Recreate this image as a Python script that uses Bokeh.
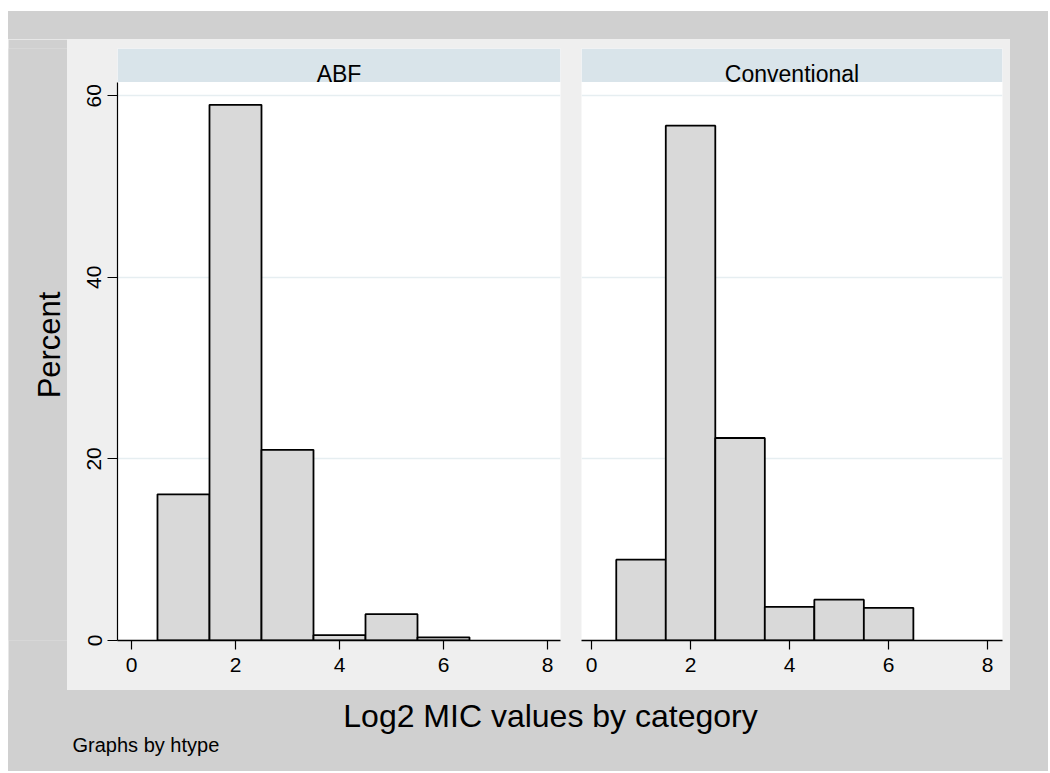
from math import pi
from bokeh.plotting import figure
from bokeh.layouts import row, column
from bokeh.models import Range1d, FixedTicker, Spacer, ColumnDataSource
from bokeh.core.properties import value
from bokeh.embed import file_html
from bokeh.resources import INLINE

# ---- data ----
panel_names = ["ABF", "Conventional"]
bin_centers = [1, 2, 3, 4, 5, 6]
bin_width = 1.0
abf_percent = [16.1, 59.0, 21.0, 0.6, 2.9, 0.35]
conv_percent = [8.9, 56.7, 22.3, 3.7, 4.5, 3.6]
x_ticks = [0, 2, 4, 6, 8]
y_ticks = [0, 20, 40, 60]
grid_ticks = [20, 40, 60]
y_title = "Percent"
x_title = "Log2 MIC values by category"
note_text = "Graphs by htype"

# ---- style ----
OUTER = "#d0d0d0"
INNER = "#efefef"
STRIP = "#d9e4ea"
BAR = "#d9d9d9"
GRID = "#e6eef1"
FONT = "Liberation Sans"
Y_END = 65.2
STRIP_BOTTOM = 61.5
PANEL_H = 651
GRAY_W = 1040
GRAY_H = 760
TOP_H = 28
LEFT_W = 59
PA_W = 504
PB_W = 439
RIGHT_W = GRAY_W - LEFT_W - PA_W - PB_W
BOTTOM_H = GRAY_H - TOP_H - PANEL_H


def make_panel(name, values, width, left, right, xr, show_y):
    p = figure(width=width, height=PANEL_H,
               x_range=Range1d(*xr), y_range=Range1d(0, Y_END),
               min_border_left=left, min_border_right=right,
               min_border_top=9, min_border_bottom=50,
               toolbar_location=None, output_backend="svg",
               background_fill_color="white", border_fill_color=INNER,
               outline_line_color=None)
    src = ColumnDataSource(dict(
        left=[c - bin_width / 2 for c in bin_centers],
        right=[c + bin_width / 2 for c in bin_centers],
        top=values,
        bottom=[0] * len(values)))
    p.quad(left="left", right="right", top="top", bottom="bottom", source=src,
           fill_color=BAR, line_color="black", line_width=1.8)
    # strip header
    p.quad(left=[xr[0]], right=[xr[1]], bottom=[STRIP_BOTTOM], top=[Y_END],
           fill_color=STRIP, line_color=None)
    p.text(x=[(xr[0] + xr[1]) / 2], y=[62.35], text=[name],
           text_font=value(FONT), text_font_size="23px", text_color="black",
           text_align="center", text_baseline="alphabetic")

    p.xgrid.visible = False
    p.ygrid.ticker = FixedTicker(ticks=grid_ticks)
    p.ygrid.grid_line_color = GRID
    p.ygrid.grid_line_width = 1.5

    ax = p.xaxis[0]
    ax.ticker = FixedTicker(ticks=x_ticks)
    ax.axis_line_color = "black"
    ax.axis_line_width = 1.5
    ax.major_tick_out = 9
    ax.major_tick_in = 0
    ax.major_tick_line_color = "black"
    ax.major_tick_line_width = 1.2
    ax.minor_tick_line_color = None
    ax.major_label_text_font = FONT
    ax.major_label_text_font_size = "21px"
    ax.major_label_text_color = "black"
    ax.major_label_standoff = 8

    ay = p.yaxis[0]
    if show_y:
        ay.ticker = FixedTicker(ticks=y_ticks)
        ay.bounds = (0, STRIP_BOTTOM)
        ay.axis_line_color = "black"
        ay.axis_line_width = 1.2
        ay.major_tick_out = 10
        ay.major_tick_in = 0
        ay.major_tick_line_color = "black"
        ay.major_tick_line_width = 1.2
        ay.minor_tick_line_color = None
        ay.major_label_orientation = "vertical"
        ay.major_label_text_font = FONT
        ay.major_label_text_font_size = "21px"
        ay.major_label_text_color = "black"
        ay.major_label_standoff = 6
    else:
        ay.visible = False
    return p


def text_box(width, height):
    p = figure(width=width, height=height,
               x_range=Range1d(0, width), y_range=Range1d(0, height),
               min_border=0, toolbar_location=None, output_backend="svg",
               background_fill_color=OUTER, border_fill_color=OUTER,
               outline_line_color=None)
    p.axis.visible = False
    p.grid.visible = False
    return p


pA = make_panel(panel_names[0], abf_percent, PA_W, 50, 11, (-0.269, 8.25), True)
pB = make_panel(panel_names[1], conv_percent, PB_W, 10, 8, (-0.202, 8.30), False)

left = text_box(LEFT_W, PANEL_H)
left.text(x=[41], y=[PANEL_H - 326], text=[y_title], angle=pi / 2,
          text_font=value(FONT), text_font_size="31px", text_color="black",
          text_align="center", text_baseline="middle")

bottom = text_box(GRAY_W, BOTTOM_H)
bottom.text(x=[542], y=[BOTTOM_H - 25], text=[x_title],
            text_font=value(FONT), text_font_size="32px", text_color="black",
            text_align="center", text_baseline="alphabetic")
bottom.text(x=[64], y=[BOTTOM_H - 54], text=[note_text],
            text_font=value(FONT), text_font_size="20px", text_color="black",
            text_align="left", text_baseline="alphabetic")

top = Spacer(width=GRAY_W, height=TOP_H, styles={"background-color": OUTER})
right = Spacer(width=RIGHT_W, height=PANEL_H, styles={"background-color": OUTER})

middle = row(left, pA, pB, right, styles={"background-color": INNER})
inner = column(top, middle, bottom, styles={"background-color": OUTER})
layout = column(Spacer(width=GRAY_W + 8, height=11),
                row(Spacer(width=8, height=GRAY_H), inner))

open("out.html", "w").write(file_html(layout, INLINE))
